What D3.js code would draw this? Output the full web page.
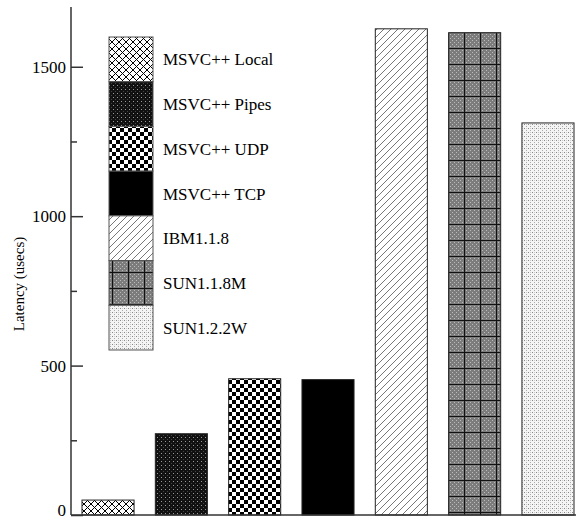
<!DOCTYPE html>
<html lang="en">
  <head>
    <meta charset="utf-8" />
    <title>Latency</title>
    <script src="https://cdnjs.cloudflare.com/ajax/libs/d3/7.8.5/d3.min.js"></script>
    <style>
      body { margin: 0; background: #fff; }
      svg text { font-family: "Liberation Serif", "DejaVu Serif", serif; fill: #000; }
    </style>
  </head>
  <body>
    <svg id="chart" width="576" height="520"></svg>
    <script>
      // data
      const categories = ["MSVC++ Local", "MSVC++ Pipes", "MSVC++ UDP", "MSVC++ TCP", "IBM1.1.8", "SUN1.1.8M", "SUN1.2.2W"];
      const latency = [50, 272, 456, 453, 1627, 1614, 1312];
      const majorTicks = [0, 500, 1000, 1500];
      const minorTicks = [250, 750, 1250];
      const patternIds = ["p-cross", "p-pipes", "p-checker", "p-solid", "p-diag", "p-grid", "p-dots"];

      const svg = d3.select("#chart");
      const defs = svg.append("defs");

      // patterns, roughly copying the old bitmap fills
      let p = defs.append("pattern").attr("id", "p-cross").attr("patternUnits", "userSpaceOnUse")
        .attr("width", 7).attr("height", 7);
      p.append("rect").attr("width", 7).attr("height", 7).attr("fill", "#fff");
      p.append("path").attr("d", "M0,0L7,7M7,0L0,7").attr("stroke", "#000").attr("stroke-width", 1);

      p = defs.append("pattern").attr("id", "p-pipes").attr("patternUnits", "userSpaceOnUse")
        .attr("width", 4).attr("height", 4);
      p.append("rect").attr("width", 4).attr("height", 4).attr("fill", "#111");
      p.append("rect").attr("x", 1).attr("y", 1).attr("width", 1).attr("height", 1).attr("fill", "#999");
      p.append("rect").attr("x", 3).attr("y", 3).attr("width", 1).attr("height", 1).attr("fill", "#444");

      p = defs.append("pattern").attr("id", "p-checker").attr("patternUnits", "userSpaceOnUse")
        .attr("width", 8).attr("height", 8);
      p.append("rect").attr("width", 8).attr("height", 8).attr("fill", "#fff");
      p.append("rect").attr("width", 4).attr("height", 4).attr("fill", "#000");
      p.append("rect").attr("x", 4).attr("y", 4).attr("width", 4).attr("height", 4).attr("fill", "#000");

      p = defs.append("pattern").attr("id", "p-solid").attr("patternUnits", "userSpaceOnUse")
        .attr("width", 4).attr("height", 4);
      p.append("rect").attr("width", 4).attr("height", 4).attr("fill", "#000");

      p = defs.append("pattern").attr("id", "p-diag").attr("patternUnits", "userSpaceOnUse")
        .attr("width", 7).attr("height", 7);
      p.append("rect").attr("width", 7).attr("height", 7).attr("fill", "#fff");
      p.append("path").attr("d", "M-1,8L8,-1M-1,1L1,-1M6,8L8,6").attr("stroke", "#777").attr("stroke-width", 1);

      p = defs.append("pattern").attr("id", "p-grid").attr("patternUnits", "userSpaceOnUse")
        .attr("width", 16).attr("height", 16);
      p.append("rect").attr("width", 16).attr("height", 16).attr("fill", "#7c7c7c");
      for (let i = 0; i < 16; i += 2) {
        for (let j = (i / 2) % 2 ? 2 : 0; j < 16; j += 4) {
          p.append("rect").attr("x", j).attr("y", i).attr("width", 1).attr("height", 1).attr("fill", "#bbb");
        }
      }
      p.append("path").attr("d", "M0,0.5H16M0.5,0V16").attr("stroke", "#111").attr("stroke-width", 1.2);

      p = defs.append("pattern").attr("id", "p-dots").attr("patternUnits", "userSpaceOnUse")
        .attr("width", 4).attr("height", 4);
      p.append("rect").attr("width", 4).attr("height", 4).attr("fill", "#f4f4f4");
      p.append("rect").attr("x", 0).attr("y", 0).attr("width", 1).attr("height", 1).attr("fill", "#888");
      p.append("rect").attr("x", 2).attr("y", 2).attr("width", 1).attr("height", 1).attr("fill", "#aaa");
      p.append("rect").attr("x", 2).attr("y", 0).attr("width", 1).attr("height", 1).attr("fill", "#ccc");

      // scales
      const x = d3.scaleBand().domain(categories).range([71, 585]).paddingInner(0.29).paddingOuter(0.15);
      const y = d3.scaleLinear().domain([0, 1700]).range([515, 7]);

      // bars
      svg.append("g")
        .selectAll("rect")
        .data(categories)
        .join("rect")
        .attr("x", (d) => x(d))
        .attr("y", (d, i) => y(latency[i]))
        .attr("width", x.bandwidth())
        .attr("height", (d, i) => y(0) - y(latency[i]))
        .attr("fill", (d, i) => "url(#" + patternIds[i] + ")")
        .attr("stroke", "#222")
        .attr("stroke-width", 1);

      // y axis (ticks point inwards)
      const yAxis = svg.append("g").attr("transform", "translate(71,0)")
        .call(d3.axisRight(y).tickValues(majorTicks).tickSize(12).tickFormat(""));
      yAxis.select(".domain").remove();
      yAxis.selectAll(".tick line").attr("stroke", "#333").attr("stroke-width", 1.5);
      svg.append("g").attr("transform", "translate(71,0)")
        .call(d3.axisRight(y).tickValues(minorTicks).tickSize(6).tickFormat(""))
        .call((g) => g.select(".domain").remove())
        .call((g) => g.selectAll(".tick line").attr("stroke", "#333").attr("stroke-width", 1.5));
      svg.append("line").attr("x1", 71).attr("x2", 71).attr("y1", y(1700)).attr("y2", y(0))
        .attr("stroke", "#333").attr("stroke-width", 1.5);
      svg.append("line").attr("x1", 71).attr("x2", 576).attr("y1", y(0)).attr("y2", y(0))
        .attr("stroke", "#333").attr("stroke-width", 1.5);
      svg.append("g").selectAll("text")
        .data(majorTicks)
        .join("text")
        .attr("x", 66)
        .attr("y", (d) => Math.min(y(d) + 6, 516))
        .attr("text-anchor", "end")
        .style("font-size", "17px")
        .text((d) => d);

      svg.append("text")
        .attr("transform", "translate(24,284) rotate(-90)")
        .attr("text-anchor", "middle")
        .style("font-size", "15px")
        .text("Latency (usecs)");

      // legend
      const ly = d3.scaleBand().domain(categories).range([37, 350]);
      const legend = svg.append("g");
      legend.selectAll("rect")
        .data(categories)
        .join("rect")
        .attr("x", 109)
        .attr("y", (d) => ly(d))
        .attr("width", 44)
        .attr("height", ly.bandwidth())
        .attr("fill", (d, i) => "url(#" + patternIds[i] + ")")
        .attr("stroke", "#555")
        .attr("stroke-width", 1);
      legend.selectAll("text")
        .data(categories)
        .join("text")
        .attr("x", 163)
        .attr("y", (d) => ly(d) + ly.bandwidth() / 2 + 6)
        .style("font-size", "17px")
        .text((d) => d);
    </script>
  </body>
</html>
